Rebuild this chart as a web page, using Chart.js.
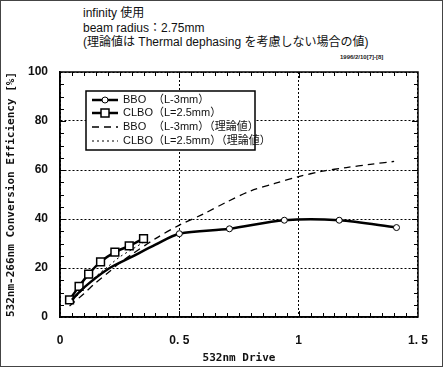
<!DOCTYPE html>
<html>
<head>
<meta charset="utf-8">
<script src="https://cdn.jsdelivr.net/npm/chart.js@4"></script>
<style>
  html, body { margin: 0; padding: 0; background: #fff; }
  #wrap { position: relative; width: 444px; height: 368px; overflow: hidden; }
  #frame { position: absolute; left: 0; top: 0; width: 441px; height: 365px; border: 1.5px solid #444; }
  #head { position: absolute; left: 83px; top: 6px; font: 12px "Liberation Sans", "Noto Sans CJK JP", sans-serif; line-height: 14.5px; color: #111; white-space: nowrap; }
  #stamp { position: absolute; left: 340px; top: 54px; font: bold 6px "Liberation Sans", sans-serif; color: #222; }
  #c { position: absolute; left: 0; top: 0; }
</style>
</head>
<body>
<div id="wrap">
  <div id="frame"></div>
  <div id="head">infinity 使用<br>beam radius：2.75mm<br>(理論値は Thermal dephasing を考慮しない場合の値)</div>
  <div id="stamp">1996/2/10[7]-[8]</div>
  <canvas id="c" width="444" height="368"></canvas>
</div>
<script>
// measured BBO (L=3mm)
var bboX = [0.05, 0.1, 0.2, 0.3, 0.4, 0.5, 0.71, 0.94, 1.17, 1.41];
var bboY = [7, 12, 19.5, 24.5, 29.5, 34, 36, 39.5, 39.5, 36.5];
// measured CLBO (L=2.5mm)
var clboX = [0.04, 0.08, 0.12, 0.17, 0.23, 0.29, 0.35];
var clboY = [7, 12.5, 17.5, 22.5, 26.5, 29, 32];
// theory BBO
var theoBX = [0.04, 0.1, 0.15, 0.2, 0.25, 0.3, 0.4, 0.5, 0.6, 0.7, 0.8, 0.9, 1.0, 1.1, 1.2, 1.3, 1.4];
var theoBY = [4.5, 9.5, 14, 18, 22, 25.5, 32, 37.5, 42, 47, 51.5, 54.5, 57.3, 59.5, 61, 62.3, 63.5];
// theory CLBO
var theoCX = [0.04, 0.1, 0.15, 0.2, 0.25, 0.3, 0.35];
var theoCY = [5.5, 11.5, 16.5, 20.5, 24.5, 27.5, 30.5];

var xTickLabels = {0: '0', 0.5: '0. 5', 1: '1', 1.5: '1. 5'};
var legendNames = ['BBO', 'CLBO', 'BBO', 'CLBO'];
var legendRest = ['（L-3mm）', '（L=2.5mm）', '（L-3mm）（理論値）', '（L=2.5mm）（理論値）'];

function pts(xs, ys) {
  var out = [];
  for (var i = 0; i < xs.length; i++) out.push({x: xs[i], y: ys[i]});
  return out;
}

// minor ticks inward + box + legend
var framePlugin = {
  id: 'frame',
  afterDraw: function(chart) {
    var c = chart.ctx, a = chart.chartArea;
    var xs = chart.scales.x, ys = chart.scales.y;
    c.save();
    c.strokeStyle = '#000';
    c.lineWidth = 1;
    for (var i = 1; i < 30; i++) {
      var px = Math.round(xs.getPixelForValue(i * 0.05)) + 0.5;
      var len = (i % 10 == 0) ? 6 : 4;
      c.beginPath();
      c.moveTo(px, a.bottom); c.lineTo(px, a.bottom - len);
      c.moveTo(px, a.top); c.lineTo(px, a.top + len);
      c.stroke();
    }
    for (var j = 1; j < 20; j++) {
      var py = Math.round(ys.getPixelForValue(j * 5)) + 0.5;
      var l2 = (j % 4 == 0) ? 6 : 4;
      c.beginPath();
      c.moveTo(a.left, py); c.lineTo(a.left + l2, py);
      c.moveTo(a.right, py); c.lineTo(a.right - l2, py);
      c.stroke();
    }
    c.lineWidth = 1.5;
    c.strokeRect(a.left, a.top, a.right - a.left, a.bottom - a.top);

    // legend box
    var bx = 86, by = 91, bw = 169, bh = 59;
    c.fillStyle = '#fff';
    c.fillRect(bx, by, bw, bh);
    c.lineWidth = 1.5;
    c.strokeRect(bx, by, bw, bh);
    var rows = [100, 113, 127, 141];
    c.font = '11px "Liberation Sans", "Noto Sans CJK JP", sans-serif';
    c.textBaseline = 'middle';
    for (var k = 0; k < 4; k++) {
      var ds = chart.data.datasets[k];
      var y = rows[k];
      c.strokeStyle = '#000';
      c.lineWidth = ds.borderWidth;
      c.setLineDash(ds.borderDash || []);
      c.beginPath(); c.moveTo(92, y); c.lineTo(118, y); c.stroke();
      c.setLineDash([]);
      if (k == 0) {
        c.lineWidth = 1; c.fillStyle = '#fff';
        c.beginPath(); c.arc(105, y, 3, 0, Math.PI * 2); c.fill(); c.stroke();
      } else if (k == 1) {
        c.lineWidth = 1.5; c.fillStyle = '#fff';
        c.fillRect(101, y - 4, 8, 8); c.strokeRect(101, y - 4, 8, 8);
      }
      c.fillStyle = '#111';
      c.fillText(legendNames[k], 123, y);
      c.fillText(legendRest[k], 153, y);
    }
    c.restore();
  }
};

new Chart(document.getElementById('c'), {
  type: 'line',
  data: {
    datasets: [
      {label: 'BBO (L-3mm)', data: pts(bboX, bboY), borderColor: '#000', borderWidth: 2.5,
       pointStyle: 'circle', pointRadius: function(ctx) { return bboX[ctx.dataIndex] >= 0.5 ? 3 : 0; },
       pointBackgroundColor: '#fff', pointBorderColor: '#000', pointBorderWidth: 1, tension: 0.3},
      {label: 'CLBO (L=2.5mm)', data: pts(clboX, clboY), borderColor: '#000', borderWidth: 2.5,
       pointStyle: 'rect', pointRadius: 5.5,
       pointBackgroundColor: '#fff', pointBorderColor: '#000', pointBorderWidth: 1.5, tension: 0.2},
      {label: 'BBO (L-3mm)(理論値)', data: pts(theoBX, theoBY), borderColor: '#000', borderWidth: 1.3,
       borderDash: [7, 5], pointRadius: 0, tension: 0.3},
      {label: 'CLBO (L=2.5mm)(理論値)', data: pts(theoCX, theoCY), borderColor: '#000', borderWidth: 1,
       borderDash: [2, 3], pointRadius: 0, tension: 0.3}
    ]
  },
  options: {
    responsive: false,
    animation: false,
    layout: {padding: {left: 0, top: 72, right: 24, bottom: 0}},
    plugins: {legend: {display: false}, tooltip: {enabled: false}},
    scales: {
      x: {
        type: 'linear', min: 0, max: 1.5,
        afterFit: function(s) { s.height = 51; },
        ticks: {stepSize: 0.5, padding: 16, color: '#111',
          font: {family: 'Liberation Sans', weight: 'bold', size: 12},
          callback: function(v) { return xTickLabels[v]; }},
        grid: {drawTicks: false, color: '#000', lineWidth: 1},
        border: {display: true, color: '#000', width: 1.5, dash: [2, 2]},
        title: {display: true, text: '532nm Drive', color: '#111', padding: {top: 0, bottom: 3},
          font: {family: 'DejaVu Sans Mono', weight: 'bold', size: 11}}
      },
      y: {
        min: 0, max: 100,
        afterFit: function(s) { s.width = 60; },
        ticks: {stepSize: 20, padding: 12, color: '#111',
          font: {family: 'Liberation Sans', weight: 'bold', size: 12}},
        grid: {drawTicks: false, color: '#000', lineWidth: 1},
        border: {display: true, color: '#000', width: 1.5, dash: [2, 2]},
        title: {display: true, text: '532nm-266nm Conversion Efficiency [%]', color: '#111',
          padding: {top: 5, bottom: 0},
          font: {family: 'DejaVu Sans Mono', weight: 'bold', size: 11}}
      }
    }
  },
  plugins: [framePlugin]
});
</script>
</body>
</html>
